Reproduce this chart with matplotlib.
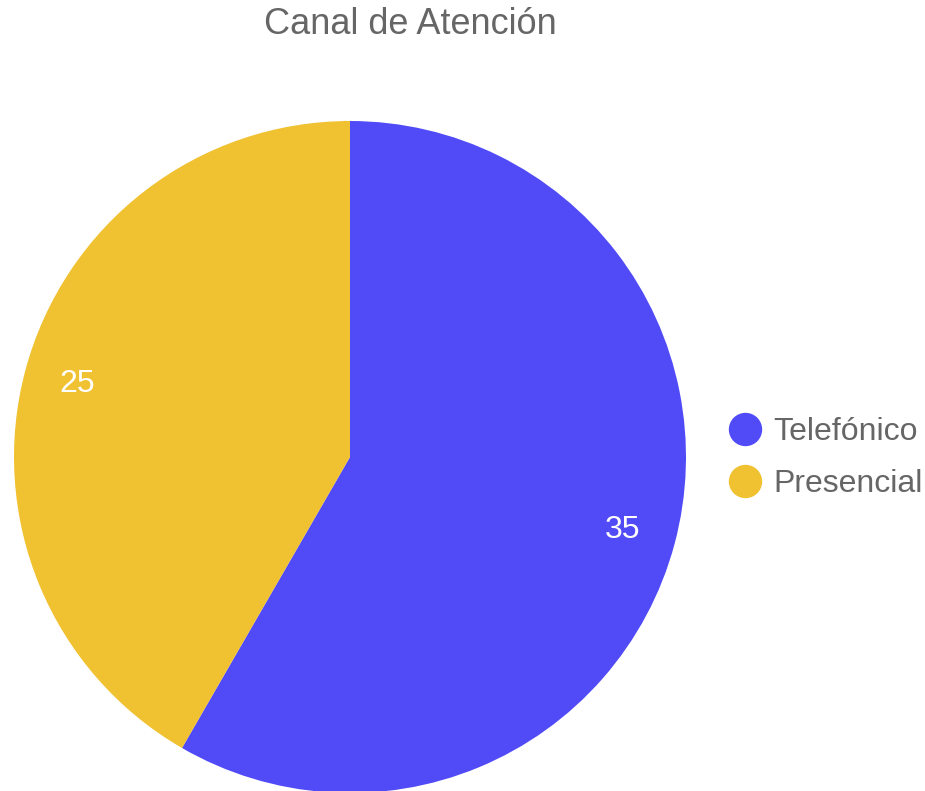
import matplotlib
matplotlib.use("Agg")
import matplotlib.pyplot as plt
from matplotlib.lines import Line2D

plt.rcParams['font.family'] = ['Liberation Sans', 'DejaVu Sans']

title = "Canal de Atención"
categories = ["Telefónico", "Presencial"]
values = [35, 25]
colors = ["#514BF7", "#F0C130"]

fig = plt.figure(figsize=(9.25, 7.91), dpi=100)
W, H = 925, 791
# pie area in pixels: centre (350, 457), radius 336
cx, cy, r = 350, 457, 336
ax = fig.add_axes([(cx - r) / W, (H - cy - r) / H, 2 * r / W, 2 * r / H])
ax.pie(values, colors=colors, startangle=90, counterclock=False, radius=1,
       autopct=lambda p: f"{p * sum(values) / 100:.0f}", pctdistance=0.84,
       textprops=dict(color="white", fontsize=23),
       wedgeprops=dict(linewidth=0))
ax.set_xlim(-1, 1)
ax.set_ylim(-1, 1)
ax.set_aspect('auto')
ax.axis('off')

fig.text(410 / W, 1 - 25 / H, title, ha='center', va='center', fontsize=26, color='#666666')

handles = [Line2D([0], [0], marker='o', linestyle='none', markersize=23,
                  markerfacecolor=c, markeredgecolor=c) for c in colors]
fig.legend(handles, categories, loc='center left', bbox_to_anchor=(726 / W, 1 - 458 / H),
           frameon=False, fontsize=23, labelcolor='#666666', handletextpad=0.28,
           labelspacing=0.67, handlelength=1.2, borderpad=0, borderaxespad=0)

fig.savefig("out.png", dpi=100)
